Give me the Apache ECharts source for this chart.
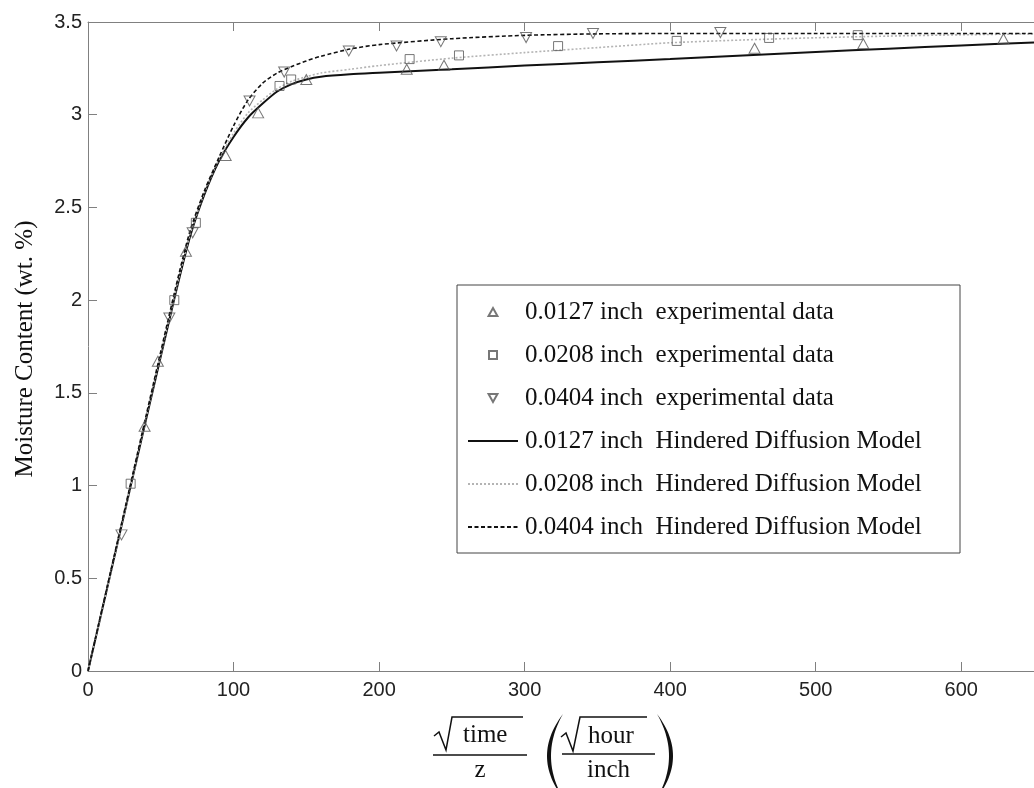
<!DOCTYPE html>
<html>
<head>
<meta charset="utf-8">
<script src="https://cdn.jsdelivr.net/npm/echarts@6/dist/echarts.min.js"></script>
<style>
html,body{margin:0;padding:0;background:#fff;}
#chart{width:1034px;height:788px;}
</style>
</head>
<body>
<div id="chart"></div>
<script>
// ---- data ----
const xTri0127 = [38.9, 48.0, 67.3, 94.6, 116.9, 150, 219, 244.6, 458, 532.7, 629];
const yTri0127 = [1.32, 1.67, 2.264, 2.78, 3.01, 3.19, 3.245, 3.267, 3.358, 3.383, 3.41];

const xSq0208 = [29.3, 59.3, 74.1, 131.6, 139.6, 221, 254.9, 323, 404.5, 468, 528.9];
const ySq0208 = [1.01, 2.0, 2.417, 3.155, 3.19, 3.30, 3.32, 3.37, 3.398, 3.414, 3.429];

const xDn0404 = [23, 55.9, 71.9, 111, 134.8, 179.2, 212, 242.4, 301, 347, 434.5];
const yDn0404 = [0.734, 1.904, 2.363, 3.074, 3.23, 3.344, 3.371, 3.394, 3.416, 3.438, 3.443];

const xModel = [0, 20, 40, 60, 70, 80, 90, 100, 110, 120, 130, 140, 150, 160, 180, 200, 250, 300, 350, 400, 450, 500, 550, 600, 650];
const yModel0127 = [0, 0.68, 1.36, 2.03, 2.34, 2.57, 2.75, 2.88, 2.985, 3.06, 3.125, 3.165, 3.19, 3.205, 3.218, 3.226, 3.245, 3.265, 3.283, 3.30, 3.32, 3.338, 3.356, 3.373, 3.39];
const yModel0208 = [0, 0.68, 1.37, 2.04, 2.35, 2.58, 2.76, 2.90, 3.01, 3.08, 3.14, 3.18, 3.205, 3.225, 3.245, 3.265, 3.305, 3.335, 3.362, 3.388, 3.403, 3.415, 3.424, 3.431, 3.436];
const yModel0404 = [0, 0.69, 1.38, 2.06, 2.37, 2.59, 2.77, 2.94, 3.08, 3.17, 3.225, 3.26, 3.29, 3.315, 3.354, 3.378, 3.41, 3.428, 3.436, 3.438, 3.438, 3.438, 3.438, 3.438, 3.438];

const legendNames = [
  '0.0127 inch  experimental data',
  '0.0208 inch  experimental data',
  '0.0404 inch  experimental data',
  '0.0127 inch  Hindered Diffusion Model',
  '0.0208 inch  Hindered Diffusion Model',
  '0.0404 inch  Hindered Diffusion Model'
];

const zip = (xs, ys) => xs.map((x, i) => [x, ys[i]]);

const serif = '"Liberation Serif", "Times New Roman", serif';
const sans = '"Liberation Sans", Arial, sans-serif';
const axisGray = '#808080';
const markerColor = '#555';

const ICON_UP = 'path://M0,9L5,0L10,9Z';
const ICON_DOWN = 'path://M0,0L10,0L5,9Z';
const ICON_SQ = 'path://M0,0L10,0L10,10L0,10Z';

function quad(p0, c, p1, n) {
  const pts = [];
  for (let i = 0; i <= n; i++) {
    const t = i / n;
    pts.push([
      (1 - t) * (1 - t) * p0[0] + 2 * (1 - t) * t * c[0] + t * t * p1[0],
      (1 - t) * (1 - t) * p0[1] + 2 * (1 - t) * t * c[1] + t * t * p1[1]
    ]);
  }
  return pts;
}
function paren(tipX, outerCx, innerCx, yTop, yBot) {
  const yMid = (yTop + yBot) / 2;
  const outer = quad([tipX, yTop], [outerCx, yMid], [tipX, yBot], 30);
  const inner = quad([tipX, yBot], [innerCx, yMid], [tipX, yTop], 30);
  return outer.concat(inner);
}

const chart = echarts.init(document.getElementById('chart'));

const scatterStyle = (sym, size, rot) => ({
  type: 'scatter',
  symbol: sym,
  symbolSize: size,
  symbolRotate: rot || 0,
  itemStyle: { color: 'rgba(255,255,255,0)', borderColor: markerColor, borderWidth: 1 },
  z: 3
});

const hiddenDot = { color: 'rgba(0,0,0,0)', borderColor: 'rgba(0,0,0,0)', borderWidth: 0, opacity: 0 };

const option = {
  backgroundColor: '#ffffff',
  animation: false,
  grid: { left: 88, top: 22, bottom: 117, right: -7, containLabel: false },
  xAxis: [
    {
      type: 'value', min: 0, max: 650, interval: 100, position: 'bottom',
      axisLine: { show: true, onZero: false, lineStyle: { color: axisGray, width: 1 } },
      axisTick: { show: true, inside: true, length: 9, lineStyle: { color: axisGray } },
      axisLabel: { show: true, color: '#222', fontFamily: sans, fontSize: 20, margin: 9, showMaxLabel: false },
      splitLine: { show: false }
    },
    {
      type: 'value', min: 0, max: 650, interval: 100, position: 'top',
      axisLine: { show: true, onZero: false, lineStyle: { color: axisGray, width: 1 } },
      axisTick: { show: true, inside: true, length: 9, lineStyle: { color: axisGray } },
      axisLabel: { show: false },
      splitLine: { show: false }
    }
  ],
  yAxis: {
    type: 'value', min: 0, max: 3.5, interval: 0.5,
    axisLine: { show: true, onZero: false, lineStyle: { color: axisGray, width: 1 } },
    axisTick: { show: true, inside: true, length: 9, lineStyle: { color: axisGray } },
    axisLabel: { color: '#222', fontFamily: sans, fontSize: 20, margin: 6 },
    splitLine: { show: false }
  },
  legend: {
    orient: 'vertical',
    left: 467,
    top: 297,
    padding: 0,
    itemGap: 13,
    itemWidth: 50,
    itemHeight: 8,
    symbolKeepAspect: true,
    textStyle: { fontFamily: serif, fontSize: 25, color: '#111', lineHeight: 30, padding: [0, 0, 0, 2] },
    data: [
      { name: legendNames[0], icon: ICON_UP },
      { name: legendNames[1], icon: ICON_SQ },
      { name: legendNames[2], icon: ICON_DOWN },
      { name: legendNames[3], itemStyle: hiddenDot },
      { name: legendNames[4], itemStyle: hiddenDot },
      { name: legendNames[5], itemStyle: hiddenDot }
    ]
  },
  series: [
    Object.assign(scatterStyle('triangle', [11, 10]), { name: legendNames[0], data: zip(xTri0127, yTri0127) }),
    Object.assign(scatterStyle('rect', [9, 9]), { name: legendNames[1], data: zip(xSq0208, ySq0208) }),
    Object.assign(scatterStyle('triangle', [11, 10], 180), { name: legendNames[2], data: zip(xDn0404, yDn0404) }),
    {
      name: legendNames[3], type: 'line', data: zip(xModel, yModel0127),
      symbol: 'none', smooth: 0.25, z: 2,
      lineStyle: { color: '#111', width: 2, type: 'solid' },
      itemStyle: { color: '#111' }
    },
    {
      name: legendNames[4], type: 'line', data: zip(xModel, yModel0208),
      symbol: 'none', smooth: 0.25, z: 2,
      lineStyle: { color: '#b4b4b4', width: 1.6, type: [2, 2] },
      itemStyle: { color: '#b4b4b4' }
    },
    {
      name: legendNames[5], type: 'line', data: zip(xModel, yModel0404),
      symbol: 'none', smooth: 0.25, z: 2,
      lineStyle: { color: '#111', width: 1.6, type: [4, 2.5] },
      itemStyle: { color: '#111' }
    }
  ],
  graphic: {
    elements: [
      // legend frame
      { type: 'rect', shape: { x: 457, y: 285, width: 503, height: 268 }, style: { fill: 'none', stroke: '#444', lineWidth: 1 }, z: 1 },
      // y axis title
      { type: 'text', x: 25, y: 349, rotation: Math.PI / 2,
        style: { text: 'Moisture Content (wt. %)', font: '25px ' + serif, fill: '#111', align: 'center', verticalAlign: 'middle', textAlign: 'center', textVerticalAlign: 'middle' } },
      // x axis title: sqrt(time)/z
      { type: 'polyline', shape: { points: [[434, 736], [439, 732], [446, 750], [452, 717], [523, 717]] }, style: { stroke: '#111', lineWidth: 1.5, fill: 'none' } },
      { type: 'text', x: 463, y: 735, style: { text: 'time', font: '25px ' + serif, fill: '#111', align: 'left', verticalAlign: 'middle', textAlign: 'left', textVerticalAlign: 'middle' } },
      { type: 'line', shape: { x1: 433, y1: 755, x2: 527, y2: 755 }, style: { stroke: '#111', lineWidth: 1.5 } },
      { type: 'text', x: 480, y: 770, style: { text: 'z', font: '25px ' + serif, fill: '#111', align: 'center', verticalAlign: 'middle', textAlign: 'center', textVerticalAlign: 'middle' } },
      // parentheses
      { type: 'polygon', shape: { points: paren(563, 531, 539, 714, 798) }, style: { fill: '#111' } },
      { type: 'polygon', shape: { points: paren(657, 689, 681, 714, 798) }, style: { fill: '#111' } },
      // sqrt(hour)/inch
      { type: 'polyline', shape: { points: [[561, 737], [566, 733], [573, 751], [580, 717], [647, 717]] }, style: { stroke: '#111', lineWidth: 1.5, fill: 'none' } },
      { type: 'text', x: 588, y: 736, style: { text: 'hour', font: '25px ' + serif, fill: '#111', align: 'left', verticalAlign: 'middle', textAlign: 'left', textVerticalAlign: 'middle' } },
      { type: 'line', shape: { x1: 562, y1: 754, x2: 655, y2: 754 }, style: { stroke: '#111', lineWidth: 1.5 } },
      { type: 'text', x: 587, y: 770, style: { text: 'inch', font: '25px ' + serif, fill: '#111', align: 'left', verticalAlign: 'middle', textAlign: 'left', textVerticalAlign: 'middle' } }
    ]
  }
};

chart.setOption(option);
</script>
</body>
</html>
